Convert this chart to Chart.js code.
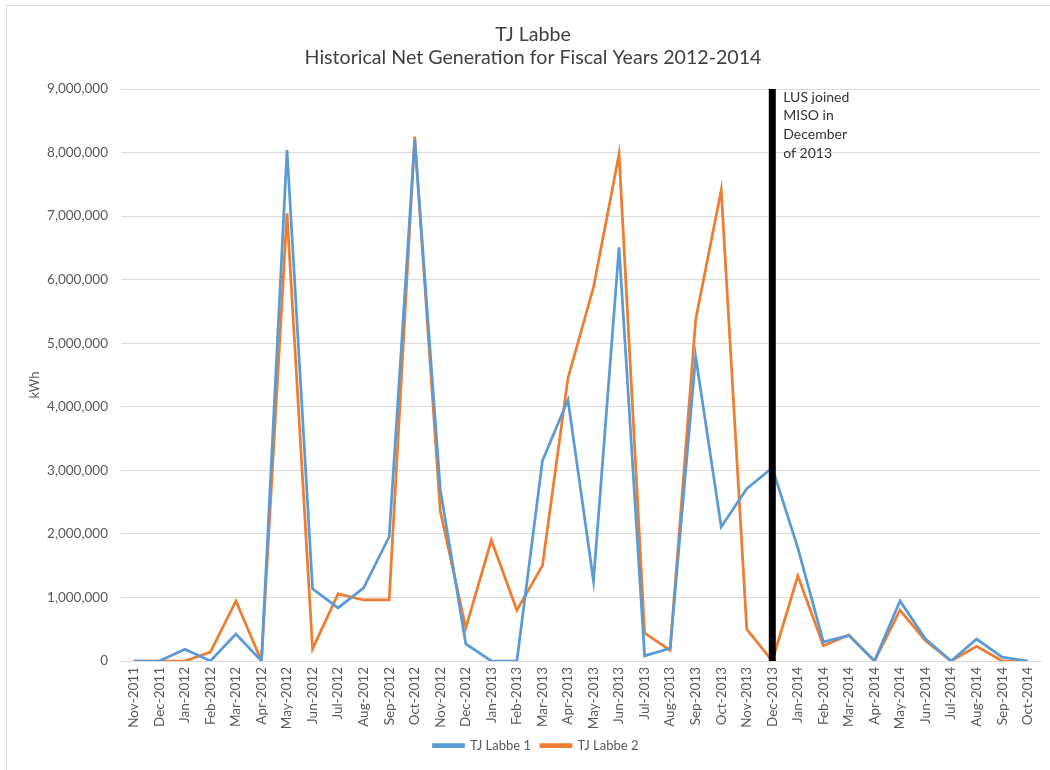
<!DOCTYPE html>
<html>
<head>
<meta charset="utf-8">
<title>TJ Labbe Net Generation</title>
<script src="https://cdn.jsdelivr.net/npm/chart.js@4/dist/chart.umd.min.js"></script>
<style>
  html, body { margin: 0; padding: 0; background: #ffffff; }
  #wrap { position: relative; width: 1050px; height: 770px; }
  canvas { display: block; }
</style>
</head>
<body>
<div id="wrap"><canvas id="chart" width="1050" height="770"></canvas></div>
<script>
// Months of fiscal years 2012-2014
const months = [
  'Nov-2011','Dec-2011','Jan-2012','Feb-2012','Mar-2012','Apr-2012','May-2012','Jun-2012',
  'Jul-2012','Aug-2012','Sep-2012','Oct-2012','Nov-2012','Dec-2012','Jan-2013','Feb-2013',
  'Mar-2013','Apr-2013','May-2013','Jun-2013','Jul-2013','Aug-2013','Sep-2013','Oct-2013',
  'Nov-2013','Dec-2013','Jan-2014','Feb-2014','Mar-2014','Apr-2014','May-2014','Jun-2014',
  'Jul-2014','Aug-2014','Sep-2014','Oct-2014'
];

// Net generation, kWh
const labbe1 = [
  0, 0, 185000, 0, 425000, 0, 8040000, 1135000,
  835000, 1150000, 1955000, 8200000, 2700000, 270000, 0, 0,
  3150000, 4110000, 1260000, 6510000, 80000, 200000, 4790000, 2110000,
  2710000, 3040000, 1780000, 300000, 400000, 0, 945000, 345000,
  0, 345000, 60000, 0
];
const labbe2 = [
  0, 0, 0, 140000, 945000, 0, 7045000, 190000,
  1055000, 960000, 960000, 8250000, 2360000, 520000, 1900000, 800000,
  1500000, 4450000, 5880000, 7975000, 440000, 170000, 5370000, 7410000,
  500000, 0, 1340000, 240000, 410000, 0, 800000, 320000,
  0, 230000, 0, 0
];

const titleLines = ['TJ Labbe', 'Historical Net Generation for Fiscal Years 2012-2014'];
const yAxisTitle = 'kWh';
const markerMonth = 'Dec-2013';
const markerNote = ['LUS joined', 'MISO in', 'December', 'of 2013'];

const FONT = 'Lato, "Open Sans", "Liberation Sans", sans-serif';
const TEXT = '#595959';

// Frame, headline and axis title
const decorations = {
  id: 'decorations',
  afterLayout(chart) {
    // nudge the legend row a little to the right of the canvas centre
    if (chart.legend) {
      chart.legend.left += 12;
      chart.legend.right += 12;
    }
  },
  beforeDraw(chart) {
    const ctx = chart.ctx;
    ctx.save();
    ctx.fillStyle = '#ffffff';
    ctx.fillRect(0, 0, chart.width, chart.height);
    ctx.strokeStyle = '#d9d9d9';
    ctx.lineWidth = 1;
    ctx.beginPath();
    ctx.moveTo(6.5, chart.height);
    ctx.lineTo(6.5, 5.5);
    ctx.lineTo(chart.width, 5.5);
    ctx.stroke();

    ctx.fillStyle = '#404040';
    ctx.font = '19.6px ' + FONT;
    ctx.textAlign = 'center';
    ctx.textBaseline = 'middle';
    ctx.fillText(titleLines[0], 533, 35);
    ctx.fillText(titleLines[1], 533, 58);

    ctx.fillStyle = TEXT;
    ctx.font = '13px ' + FONT;
    ctx.translate(35, 385);
    ctx.rotate(-Math.PI / 2);
    ctx.fillText(yAxisTitle, 0, 0);
    ctx.restore();
  }
};

// Vertical marker at the month LUS joined MISO
const marker = {
  id: 'marker',
  afterDatasetsDraw(chart) {
    const { ctx, chartArea, scales } = chart;
    const x = scales.x.getPixelForValue(months.indexOf(markerMonth));
    ctx.save();
    ctx.strokeStyle = '#000000';
    ctx.lineWidth = 7;
    ctx.beginPath();
    ctx.moveTo(x, chartArea.top);
    ctx.lineTo(x, chartArea.bottom);
    ctx.stroke();
    ctx.fillStyle = '#333333';
    ctx.font = '14px ' + FONT;
    ctx.textAlign = 'left';
    ctx.textBaseline = 'middle';
    markerNote.forEach((line, i) => ctx.fillText(line, x + 11, chartArea.top + 8 + i * 18.7));
    ctx.restore();
  }
};

new Chart(document.getElementById('chart'), {
  type: 'line',
  data: {
    labels: months,
    datasets: [
      {
        label: 'TJ Labbe 1',
        data: labbe1,
        borderColor: '#5B9BD5',
        backgroundColor: '#5B9BD5',
        borderWidth: 2.75,
        pointRadius: 0,
        tension: 0
      },
      {
        label: 'TJ Labbe 2',
        data: labbe2,
        borderColor: '#ED7D31',
        backgroundColor: '#ED7D31',
        borderWidth: 2.75,
        pointRadius: 0,
        tension: 0
      }
    ]
  },
  options: {
    responsive: false,
    animation: false,
    layout: { padding: { left: 5, right: 7, top: 89, bottom: 8 } },
    plugins: {
      title: { display: false },
      tooltip: { enabled: false },
      legend: {
        position: 'bottom',
        labels: {
          color: TEXT,
          font: { family: FONT, size: 13 },
          boxWidth: 30,
          boxHeight: 2,
          padding: 10
        }
      }
    },
    scales: {
      x: {
        offset: true,
        grid: { display: false, drawTicks: false },
        border: { color: '#d9d9d9' },
        ticks: {
          color: TEXT,
          font: { family: FONT, size: 13.5 },
          maxRotation: 90,
          minRotation: 90,
          autoSkip: false,
          padding: 6
        },
        afterFit(scale) { scale.height = 68; }
      },
      y: {
        min: 0,
        max: 9000000,
        grid: { color: '#d9d9d9', drawTicks: false },
        border: { display: false },
        ticks: {
          stepSize: 1000000,
          color: TEXT,
          font: { family: FONT, size: 13.5 },
          padding: 13,
          callback: v => v.toLocaleString('en-US')
        },
        afterFit(scale) { scale.width = 116; }
      }
    }
  },
  plugins: [decorations, marker]
});
</script>
</body>
</html>
